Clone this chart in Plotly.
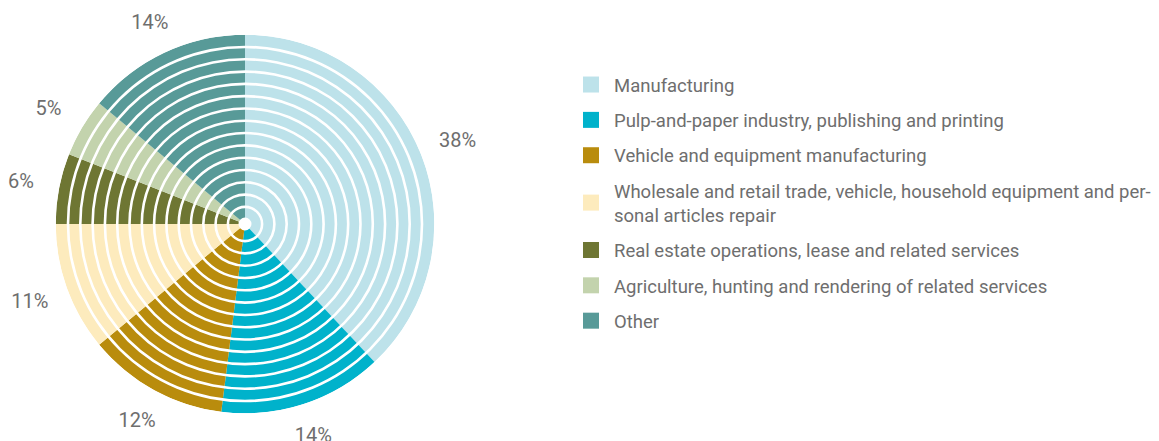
import math
import plotly.graph_objects as go

# ---- data ----
categories = [
    "Manufacturing",
    "Pulp-and-paper industry, publishing and printing",
    "Vehicle and equipment manufacturing",
    "Wholesale and retail trade, vehicle, household equipment and per-<br>sonal articles repair",
    "Real estate operations, lease and related services",
    "Agriculture, hunting and rendering of related services",
    "Other",
]
shares = [38, 14, 12, 11, 6, 5, 14]
colors = ["#bde2ea", "#00b2cb", "#b98c0d", "#fdebbd", "#6e7633", "#c3d3ad", "#589a98"]

# ---- layout constants (page body has an 8px offset) ----
W, H = 1159, 441
OFF = 8
CX, CY, RPX = 245 - OFF, 224 - OFF, 189.3   # pie centre / radius in px (figure coords)
R = RPX                                        # radial units == px
HOLE = 6.5
RING_PITCH = 12.3
RING_FIRST = 17.1
RING_GAP = 2.6
N_RINGS = 14
LABEL_EDGE = 208.0      # distance of label box edge from centre (px)
LABEL_HALF_W = 19.0
LABEL_HALF_H = 8.0
LABEL_DY = -2.0         # small downward nudge for text centring
TEXT_COLOR = "#6e6e6e"
FONT = "Roboto"

# angular positions from data
total = sum(shares)
widths = [s / total * 360 for s in shares]
mids = []
acc = 0.0
for w in widths:
    mids.append(acc + w / 2)
    acc += w

fig = go.Figure()

# sectors
for cat, w, m, c in zip(categories, widths, mids, colors):
    fig.add_trace(go.Barpolar(
        r=[R], theta=[m], width=[w], base=[0],
        marker=dict(color=c, line=dict(width=0)),
        showlegend=False, hoverinfo="skip", name=cat,
    ))

# white concentric rings (decoration)
ring_r = [RING_FIRST + RING_PITCH * k for k in range(N_RINGS)]
fig.add_trace(go.Barpolar(
    r=[RING_GAP] * N_RINGS,
    base=[rr - RING_GAP / 2 for rr in ring_r],
    theta=[0] * N_RINGS, width=[360] * N_RINGS,
    marker=dict(color="white", line=dict(width=0)),
    showlegend=False, hoverinfo="skip",
))
# centre hole
fig.add_trace(go.Barpolar(
    r=[HOLE], base=[0], theta=[0], width=[360],
    marker=dict(color="white", line=dict(width=0)),
    showlegend=False, hoverinfo="skip",
))

# percentage labels, placed on a px-scaled cartesian overlay
lx, ly = [], []
for m in mids:
    s, c = math.sin(math.radians(m)), math.cos(math.radians(m))
    rc = LABEL_EDGE + LABEL_HALF_W * abs(s) + LABEL_HALF_H * abs(c)
    lx.append(rc * s)
    ly.append(rc * c + LABEL_DY)
fig.add_trace(go.Scatter(
    x=lx, y=ly, mode="text",
    text=[f"{v}%" for v in shares],
    textfont=dict(family=FONT, size=20, color=TEXT_COLOR),
    textposition="middle center", cliponaxis=False,
    showlegend=False, hoverinfo="skip",
))

# legend entries
for i, (cat, c) in enumerate(zip(categories, colors)):
    fig.add_trace(go.Scatter(
        x=[None], y=[None], mode="markers", name=cat,
        marker=dict(symbol="square", size=16, color=c),
        legendgroup=f"g{i}", showlegend=True,
    ))

fig.update_layout(
    width=W, height=H,
    margin=dict(l=0, r=0, t=0, b=0),
    paper_bgcolor="white", plot_bgcolor="rgba(0,0,0,0)",
    font=dict(family=FONT, color=TEXT_COLOR),
    polar=dict(
        domain=dict(x=[(CX - RPX) / W, (CX + RPX) / W],
                    y=[(H - CY - RPX) / H, (H - CY + RPX) / H]),
        bgcolor="white",
        hole=0,
        radialaxis=dict(visible=False, range=[0, R]),
        angularaxis=dict(visible=False, direction="clockwise", rotation=90),
        bargap=0,
    ),
    xaxis=dict(visible=False, range=[-CX, W - CX], domain=[0, 1], fixedrange=True),
    yaxis=dict(visible=False, range=[-(H - CY), CY], domain=[0, 1], fixedrange=True),
    legend=dict(
        x=(568 - OFF) / W, y=1 - (66 - OFF) / H, xanchor="left", yanchor="top",
        font=dict(family=FONT, size=18.5, color=TEXT_COLOR),
        itemwidth=36, tracegroupgap=8.3, itemsizing="trace",
        bgcolor="rgba(0,0,0,0)",
    ),
    showlegend=True,
)

fig.write_html("out.html")
